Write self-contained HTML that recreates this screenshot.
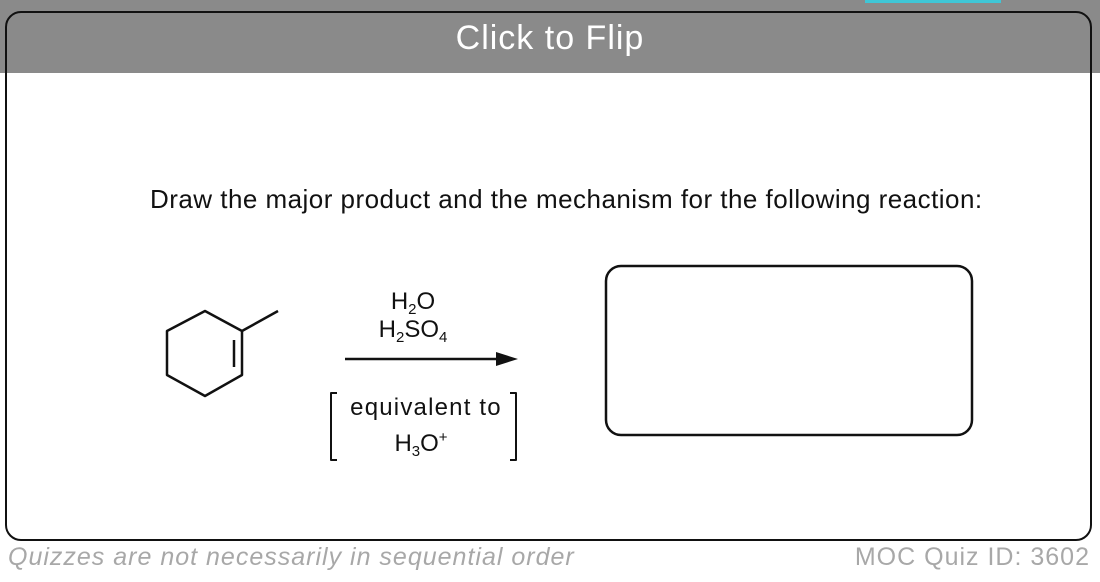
<!DOCTYPE html>
<html><head><style>
html,body{margin:0;padding:0;width:1100px;height:582px;background:#fff;overflow:hidden;font-family:"Liberation Sans",Arial,sans-serif;position:relative}
.hdr{position:absolute;left:0;top:0;width:1100px;height:73px;background:#8a8a8a}
.teal{position:absolute;left:865px;top:0;width:136px;height:3px;background:#3fc6d6}
.card{position:absolute;left:5px;top:11px;width:1083px;height:526px;border:2.5px solid #111;border-radius:16px}
.flip{position:absolute;left:0;width:1100px;top:19px;text-align:center;color:#fff;font-size:34px;letter-spacing:1px}
.q{position:absolute;left:150px;top:184px;font-size:26px;letter-spacing:0.47px;color:#111;white-space:nowrap}
.ft{position:absolute;top:543px;font-size:25px;letter-spacing:1px;color:#a8a8a8;white-space:nowrap}
</style></head><body>
<div class="hdr"></div><div class="teal"></div>
<div class="card"></div>
<div class="flip">Click to Flip</div>
<div class="q">Draw the major product and the mechanism for the following reaction:</div>
<svg width="1100" height="582" style="position:absolute;left:0;top:0">
<g stroke="#111" stroke-width="2.5" fill="none" stroke-linejoin="round">
<polygon points="205,311 242,331 242,375 205,396 167,375 167,331"/>
<line x1="242" y1="331" x2="278" y2="311"/>
<line x1="234" y1="340" x2="234" y2="367"/>
<line x1="345" y1="359" x2="500" y2="359"/>
<path d="M337,393 h-6 v67 h6 M510,393 h6 v67 h-6" stroke-width="2"/>
<rect x="606" y="266" width="366" height="169" rx="15" stroke-width="2.5"/>
</g>
<polygon points="518,359 496,352 496,366" fill="#111"/>
<g font-family="Liberation Sans, Arial, sans-serif" font-size="24" fill="#111" text-anchor="middle">
<text x="413" y="309">H<tspan font-size="15" dy="5">2</tspan><tspan dy="-5">O</tspan></text>
<text x="413" y="337">H<tspan font-size="15" dy="5">2</tspan><tspan dy="-5">SO</tspan><tspan font-size="15" dy="5">4</tspan></text>
<text x="426" y="415" letter-spacing="1.2">equivalent to</text>
<text x="421" y="451">H<tspan font-size="15" dy="5">3</tspan><tspan dy="-5">O</tspan><tspan font-size="15" dy="-9">+</tspan></text>
</g>
</svg>
<div class="ft" style="left:8px;font-style:italic">Quizzes are not necessarily in sequential order</div>
<div class="ft" style="right:10px">MOC Quiz ID: 3602</div>
</body></html>
